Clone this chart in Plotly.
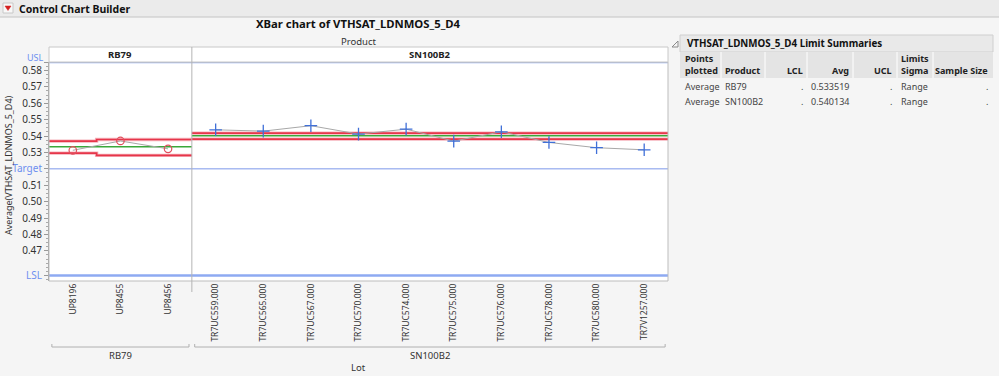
import plotly.graph_objects as go

# ---------------- data ----------------
lots = ["UP8196", "UP8455", "UP8456",
        "TR7UC559.000", "TR7UC565.000", "TR7UC567.000", "TR7UC570.000", "TR7UC574.000",
        "TR7UC575.000", "TR7UC576.000", "TR7UC578.000", "TR7UC580.000", "TR7V1257.000"]
products = ["RB79"] * 3 + ["SN100B2"] * 10
lot_means = [0.5313, 0.5370, 0.5322,
             0.5438, 0.5430, 0.5463, 0.5412, 0.5442, 0.5369, 0.5426, 0.5361, 0.5329, 0.5316]
lot_ucl = [0.5369, 0.5379, 0.5379] + [0.5418] * 10
lot_lcl = [0.5296, 0.5282, 0.5282] + [0.5381] * 10
product_names = ["RB79", "SN100B2"]
product_avg = [0.533519, 0.540134]
usl, target, lsl = 0.585, 0.520, 0.455
ytick_vals = [0.47, 0.48, 0.49, 0.50, 0.51, 0.53, 0.54, 0.55, 0.56, 0.57, 0.58]
table_rows = [["Average", "RB79", ".", "0.533519", ".", "Range", "."],
              ["Average", "SN100B2", ".", "0.540134", ".", "Range", "."]]

# ---------------- layout helpers ----------------
W, H = 999, 376
L, R, T, B = 49, 668, 62, 281
FONT = "Noto Sans"
def px(x): return (x - L) / (R - L)
def py(y): return 1 - (y - T) / (B - T)

RED = "#e6364a"
GREEN = "#3aa83a"
BLUE = "#6d8ff0"
GRAY_LINE = "#a8a8a8"

fig = go.Figure()

idx = list(range(len(lots)))

def step_xy(values):
    xs, ys = [], []
    for p in product_names:
        members = [i for i in idx if products[i] == p]
        for i in members:
            xs += [i - 0.5, i + 0.5]
            ys += [values[i], values[i]]
        xs.append(None); ys.append(None)
    return xs, ys

# center lines
cx, cy = [], []
for p, a in zip(product_names, product_avg):
    members = [i for i in idx if products[i] == p]
    cx += [members[0] - 0.5, members[-1] + 0.5, None]
    cy += [a, a, None]
fig.add_trace(go.Scatter(x=cx, y=cy, mode="lines", line=dict(color=GREEN, width=1.5),
                         hoverinfo="skip", showlegend=False))

for vals in (lot_ucl, lot_lcl):
    sx, sy = step_xy(vals)
    fig.add_trace(go.Scatter(x=sx, y=sy, mode="lines", line=dict(color="#f6b3bc", width=3.4),
                             hoverinfo="skip", showlegend=False))
    fig.add_trace(go.Scatter(x=sx, y=sy, mode="lines", line=dict(color=RED, width=1.7),
                             hoverinfo="skip", showlegend=False))

# connecting lines and markers per product
marker_styles = {
    "RB79": dict(symbol="circle-open", size=7.5, color="#e0505e", line=dict(width=1.2, color="#e0505e")),
    "SN100B2": dict(symbol="cross-thin-open", size=9, color="#4070d8", line=dict(width=1.3, color="#4070d8")),
}
for p in product_names:
    members = [i for i in idx if products[i] == p]
    fig.add_trace(go.Scatter(x=members, y=[lot_means[i] for i in members], mode="lines",
                             line=dict(color=GRAY_LINE, width=1), hoverinfo="skip", showlegend=False))
    fig.add_trace(go.Scatter(x=members, y=[lot_means[i] for i in members], mode="markers",
                             marker=marker_styles[p], showlegend=False,
                             text=[lots[i] for i in members]))

# y ticks (USL label drawn separately as annotation to keep it clear of 0.58)
tv = [lsl] + ytick_vals[:5] + [target] + ytick_vals[5:] + [usl]
tt = ([f"<span style='color:{BLUE}'>LSL</span>"] + [f"{v:.2f}" for v in ytick_vals[:5]] +
      [f"<span style='color:{BLUE}'>Target</span>"] + [f"{v:.2f}" for v in ytick_vals[5:]] +
      [""])

ytop = usl + 0.00015
ybot = ytop - (B - T) / 1640

fig.update_layout(
    width=W, height=H,
    margin=dict(l=L, r=W - R, t=T, b=H - B, pad=0),
    paper_bgcolor="#f5f5f5", plot_bgcolor="white",
    font=dict(family=FONT, size=10, color="#333"),
    xaxis=dict(range=[-0.5, len(lots) - 0.5], tickvals=idx, ticktext=lots, tickangle=-90,
               showgrid=False, zeroline=False, showline=False, ticks="", automargin=False,
               tickfont=dict(size=8.5, color="#333"), fixedrange=True),
    yaxis=dict(range=[ybot, ytop], tickvals=tv, ticktext=tt, ticks="outside", ticklen=4,
               tickcolor="#999", showgrid=False, zeroline=False, showline=True, automargin=False,
               linecolor="#a0a0a0", tickfont=dict(size=10, color="#333"),
               minor=dict(dtick=0.0025, tick0=0, ticks="outside", ticklen=2, tickcolor="#aaa"),
               fixedrange=True),
)

shapes = []
# spec lines
for v, w, c in ((usl, 2, "#8eaaf2"), (target, 1, "#7c98ea"), (lsl, 2.5, "#8eaaf2")):
    shapes.append(dict(type="line", xref="paper", yref="y", x0=0, x1=1, y0=v, y1=v,
                       line=dict(color=c, width=w), layer="below"))
# plot frame
shapes.append(dict(type="rect", xref="paper", yref="paper", x0=0, x1=1, y0=0, y1=1,
                   line=dict(color="#bdbdbd", width=1)))
# strip header
shapes.append(dict(type="rect", xref="paper", yref="paper", x0=0, x1=1, y0=py(62), y1=py(47),
                   fillcolor="white", line=dict(color="#c8c8c8", width=1)))
# divider between product panels
shapes.append(dict(type="line", xref="x", yref="paper", x0=2.5, x1=2.5, y0=py(292), y1=py(47),
                   line=dict(color="#b4b4b4", width=1)))
# bottom group brackets
for p in product_names:
    members = [i for i in idx if products[i] == p]
    x0, x1 = members[0] - 0.5 + 0.06, members[-1] + 0.5 - 0.06
    yb = py(347); yh = py(344)
    shapes.append(dict(type="path", xref="x", yref="paper",
                       path=f"M{x0},{yh} L{x0},{yb} L{x1},{yb} L{x1},{yh}",
                       line=dict(color="#b0b0b0", width=1)))
# top header bar
shapes.append(dict(type="rect", xref="paper", yref="paper", x0=px(0), x1=px(W), y0=py(17), y1=py(0),
                   fillcolor="#ebebeb", line=dict(width=0)))
shapes.append(dict(type="line", xref="paper", yref="paper", x0=px(0), x1=px(W), y0=py(17), y1=py(17),
                   line=dict(color="#c4c4c4", width=1)))
shapes.append(dict(type="rect", xref="paper", yref="paper", x0=px(3), x1=px(13), y0=py(13), y1=py(3),
                   fillcolor="#f8f8f8", line=dict(color="#c8c8c8", width=1)))
shapes.append(dict(type="path", xref="paper", yref="paper",
                   path=f"M{px(5)},{py(6)} L{px(11)},{py(6)} L{px(8)},{py(10.5)} Z",
                   fillcolor="#d42020", line=dict(color="#d42020", width=0.5)))
# table title box
shapes.append(dict(type="rect", xref="paper", yref="paper", x0=px(680), x1=px(993), y0=py(52), y1=py(35),
                   fillcolor="#e9e9e9", line=dict(color="#cfcfcf", width=1)))
shapes.append(dict(type="path", xref="paper", yref="paper",
                   path=f"M{px(672)},{py(47)} L{px(678)},{py(47)} L{px(678)},{py(41)} Z",
                   line=dict(color="#8a8a8a", width=1)))
# table column header
shapes.append(dict(type="rect", xref="paper", yref="paper", x0=px(680), x1=px(993), y0=py(78), y1=py(52),
                   fillcolor="#e4e4e4", line=dict(width=0)))
for sx in (721, 765, 807, 853, 897, 933):
    shapes.append(dict(type="line", xref="paper", yref="paper", x0=px(sx), x1=px(sx), y0=py(78), y1=py(52),
                       line=dict(color="white", width=1)))
fig.update_layout(shapes=shapes)

ann = []
def text(x, y, s, size=10, bold=False, color="#333", xanchor="center", xref="paper", angle=0, pad=1):
    ann.append(dict(x=x if xref != "paper" else px(x), y=py(y), xref=xref, yref="paper",
                    text=f"<b>{s}</b>" if bold else s, showarrow=False, xanchor=xanchor,
                    yanchor="middle", textangle=angle, borderpad=pad,
                    font=dict(family=FONT, size=size, color=color)))

text(17, 8.5, "Control Chart Builder", size=10.5, bold=True, color="#111", xanchor="left")
text((L + R) / 2, 24, "XBar chart of VTHSAT_LDNMOS_5_D4", size=11.3, bold=True, color="#111")
text((L + R) / 2, 41, "Product", size=9.5, color="#333")
for p in product_names:
    members = [i for i in idx if products[i] == p]
    c = (members[0] + members[-1]) / 2
    text(c, 54.5, p, size=9.5, bold=True, color="#222", xref="x")
    text(c, 355, p, size=9.5, color="#333", xref="x")
text((L + R) / 2, 367, "Lot", size=9.5, color="#333")
text(8, 165, "Average(VTHSAT_LDNMOS_5_D4)", size=9, color="#333", angle=-90)
text(L - 4, 57, "USL", size=9, color=BLUE, xanchor="right", pad=0)

# table
text(685, 43.5, "VTHSAT_LDNMOS_5_D4 Limit Summaries", size=9.8, bold=True, color="#111", xanchor="left")
hb = dict(size=9, bold=True, color="#222")
text(683, 59, "Points", xanchor="left", **hb)
text(683, 71, "plotted", xanchor="left", **hb)
text(723, 71, "Product", xanchor="left", **hb)
text(805, 71, "LCL", xanchor="right", **hb)
text(851, 71, "Avg", xanchor="right", **hb)
text(894, 71, "UCL", xanchor="right", **hb)
text(899, 59, "Limits", xanchor="left", **hb)
text(899, 71, "Sigma", xanchor="left", **hb)
text(990, 71, "Sample Size", xanchor="right", **hb)
col_x = [(683, "left"), (723, "left"), (805, "right"), (851, "right"), (894, "right"), (899, "left"), (990, "right")]
for r, yy in zip(table_rows, (87, 101)):
    for (cxp, anc), val in zip(col_x, r):
        text(cxp, yy, val, size=9, color="#444", xanchor=anc)

fig.update_layout(annotations=ann)
fig.write_html("out.html", config={"displayModeBar": False},
               post_script="document.body.style.margin='0';document.body.style.overflow='hidden';")
